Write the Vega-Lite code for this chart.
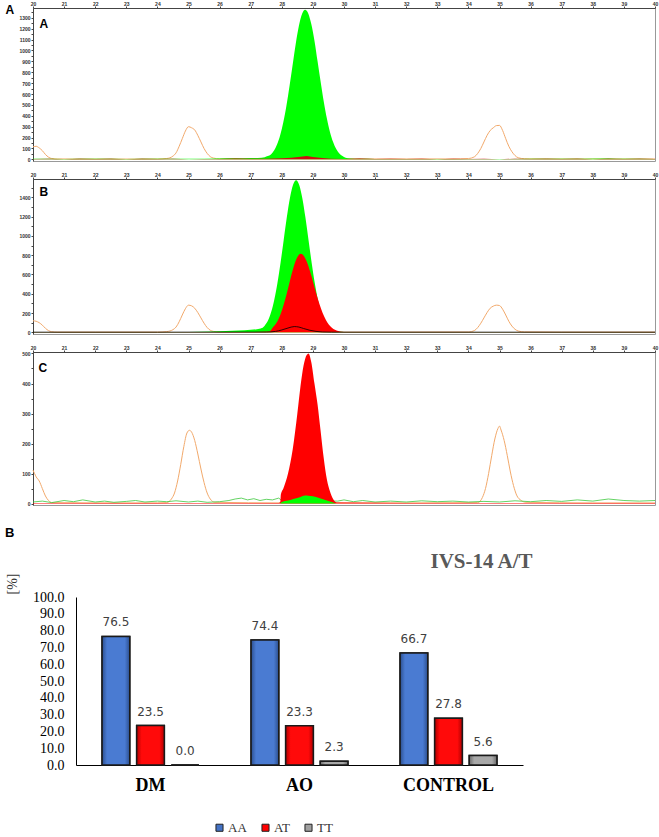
{
  "$schema": "https://vega.github.io/schema/vega-lite/v6.json",
  "padding": {"left": 4, "top": 0, "right": 0, "bottom": 0},
  "background": "white",
  "config": {"view": {"stroke": null}, "font": "Liberation Sans"},
  "datasets": {
    "A_orange": [
      {"t":20.0,"v":115},{"t":20.1,"v":120},{"t":20.2,"v":105},{"t":20.3,"v":80},{"t":20.4,"v":45},{"t":20.5,"v":20},{"t":20.6,"v":8},{"t":20.8,"v":4},{"t":21.5,"v":3},{"t":22.5,"v":3},{"t":23.5,"v":3},{"t":24.0,"v":4},{"t":24.3,"v":8},{"t":24.5,"v":30},{"t":24.6,"v":60},{"t":24.7,"v":120},{"t":24.8,"v":190},{"t":24.9,"v":260},{"t":25.0,"v":300},{"t":25.1,"v":290},{"t":25.2,"v":270},{"t":25.3,"v":220},{"t":25.4,"v":160},{"t":25.5,"v":100},{"t":25.6,"v":55},{"t":25.7,"v":25},{"t":25.8,"v":12},{"t":26.0,"v":5},{"t":27,"v":4},{"t":28,"v":4},{"t":30,"v":4},{"t":32,"v":4},{"t":33.5,"v":4},{"t":34.0,"v":8},{"t":34.2,"v":25},{"t":34.3,"v":55},{"t":34.4,"v":100},{"t":34.5,"v":160},{"t":34.6,"v":220},{"t":34.7,"v":265},{"t":34.8,"v":290},{"t":34.9,"v":310},{"t":35.0,"v":312},{"t":35.1,"v":265},{"t":35.2,"v":190},{"t":35.3,"v":120},{"t":35.4,"v":70},{"t":35.5,"v":35},{"t":35.6,"v":15},{"t":35.8,"v":6},{"t":36.5,"v":4},{"t":38,"v":4},{"t":40,"v":4}
    ],
    "A_green": [
      {"t":20,"v":5},{"t":21,"v":4},{"t":22,"v":5},{"t":23,"v":4},{"t":24,"v":5},{"t":25,"v":6},{"t":26,"v":8},{"t":26.5,"v":10},{"t":27,"v":12},{"t":27.35,"v":15},{"t":27.45,"v":20},{"t":27.55,"v":30},{"t":27.65,"v":44},{"t":27.75,"v":81},{"t":27.85,"v":139},{"t":27.95,"v":224},{"t":28.05,"v":343},{"t":28.15,"v":495},{"t":28.25,"v":676},{"t":28.35,"v":872},{"t":28.45,"v":1065},{"t":28.55,"v":1227},{"t":28.65,"v":1335},{"t":28.75,"v":1374},{"t":28.85,"v":1340},{"t":28.95,"v":1240},{"t":29.05,"v":1090},{"t":29.15,"v":900},{"t":29.25,"v":710},{"t":29.35,"v":530},{"t":29.45,"v":375},{"t":29.55,"v":250},{"t":29.65,"v":160},{"t":29.75,"v":95},{"t":29.85,"v":55},{"t":29.95,"v":30},{"t":30.05,"v":15},{"t":30.2,"v":8},{"t":30.5,"v":5},{"t":31,"v":4},{"t":33,"v":4},{"t":35,"v":4},{"t":37,"v":5},{"t":38.5,"v":8},{"t":39,"v":5},{"t":40,"v":4}
    ],
    "A_red": [
      {"t":20,"v":3},{"t":20.5,"v":6},{"t":21,"v":2},{"t":21.5,"v":5},{"t":22,"v":3},{"t":22.5,"v":6},{"t":23,"v":2},{"t":23.5,"v":5},{"t":24,"v":3},{"t":24.5,"v":5},{"t":25,"v":2},{"t":25.5,"v":4},{"t":26,"v":3},{"t":26.5,"v":8},{"t":27,"v":5},{"t":27.5,"v":6},{"t":28,"v":10},{"t":28.3,"v":15},{"t":28.6,"v":25},{"t":28.8,"v":30},{"t":29.0,"v":22},{"t":29.3,"v":12},{"t":29.6,"v":6},{"t":30,"v":4},{"t":30.5,"v":8},{"t":31,"v":3},{"t":31.5,"v":6},{"t":32,"v":3},{"t":32.5,"v":5},{"t":33,"v":2},{"t":33.5,"v":6},{"t":34,"v":3},{"t":34.5,"v":5},{"t":35,"v":2},{"t":35.5,"v":6},{"t":36,"v":3},{"t":36.5,"v":5},{"t":37,"v":3},{"t":37.5,"v":6},{"t":38,"v":2},{"t":38.5,"v":5},{"t":39,"v":3},{"t":39.5,"v":6},{"t":40,"v":3}
    ],
    "B_orange": [
      {"t":20.0,"v":120},{"t":20.1,"v":115},{"t":20.2,"v":100},{"t":20.3,"v":75},{"t":20.4,"v":42},{"t":20.5,"v":18},{"t":20.6,"v":7},{"t":20.8,"v":3},{"t":22,"v":3},{"t":24,"v":3},{"t":24.3,"v":8},{"t":24.5,"v":28},{"t":24.6,"v":55},{"t":24.7,"v":110},{"t":24.8,"v":180},{"t":24.9,"v":245},{"t":25.0,"v":282},{"t":25.1,"v":275},{"t":25.2,"v":250},{"t":25.3,"v":205},{"t":25.4,"v":150},{"t":25.5,"v":95},{"t":25.6,"v":50},{"t":25.7,"v":22},{"t":25.8,"v":10},{"t":26,"v":4},{"t":30,"v":3},{"t":34,"v":4},{"t":34.2,"v":20},{"t":34.3,"v":50},{"t":34.4,"v":95},{"t":34.5,"v":150},{"t":34.6,"v":205},{"t":34.7,"v":250},{"t":34.8,"v":272},{"t":34.9,"v":282},{"t":35.0,"v":278},{"t":35.1,"v":240},{"t":35.2,"v":180},{"t":35.3,"v":115},{"t":35.4,"v":65},{"t":35.5,"v":32},{"t":35.6,"v":14},{"t":35.8,"v":5},{"t":37,"v":3},{"t":40,"v":3}
    ],
    "B_green": [
      {"t":20,"v":3},{"t":21,"v":3},{"t":22,"v":4},{"t":23,"v":3},{"t":24,"v":4},{"t":25,"v":5},{"t":25.8,"v":8},{"t":26.2,"v":15},{"t":26.6,"v":20},{"t":27.0,"v":28},{"t":27.2,"v":33},{"t":27.36,"v":45},{"t":27.46,"v":75},{"t":27.56,"v":125},{"t":27.66,"v":213},{"t":27.76,"v":341},{"t":27.86,"v":512},{"t":27.96,"v":722},{"t":28.06,"v":956},{"t":28.16,"v":1190},{"t":28.26,"v":1391},{"t":28.36,"v":1527},{"t":28.46,"v":1576},{"t":28.56,"v":1527},{"t":28.66,"v":1391},{"t":28.76,"v":1190},{"t":28.86,"v":956},{"t":28.96,"v":722},{"t":29.06,"v":512},{"t":29.16,"v":341},{"t":29.26,"v":213},{"t":29.36,"v":125},{"t":29.46,"v":69},{"t":29.56,"v":36},{"t":29.66,"v":17},{"t":29.8,"v":8},{"t":30.0,"v":5},{"t":32,"v":4},{"t":35,"v":4},{"t":38,"v":5},{"t":40,"v":4}
    ],
    "B_red": [
      {"t":20,"v":3},{"t":21,"v":4},{"t":22,"v":3},{"t":23,"v":4},{"t":24,"v":3},{"t":25,"v":4},{"t":26,"v":3},{"t":27,"v":4},{"t":27.6,"v":8},{"t":27.71,"v":50},{"t":27.81,"v":89},{"t":27.91,"v":149},{"t":28.01,"v":234},{"t":28.11,"v":343},{"t":28.21,"v":468},{"t":28.31,"v":597},{"t":28.41,"v":710},{"t":28.51,"v":787},{"t":28.61,"v":815},{"t":28.71,"v":792},{"t":28.81,"v":728},{"t":28.91,"v":632},{"t":29.01,"v":518},{"t":29.11,"v":401},{"t":29.21,"v":294},{"t":29.31,"v":203},{"t":29.41,"v":133},{"t":29.51,"v":82},{"t":29.61,"v":48},{"t":29.71,"v":26},{"t":29.81,"v":14},{"t":29.91,"v":7},{"t":30.1,"v":4},{"t":32,"v":3},{"t":35,"v":4},{"t":38,"v":3},{"t":40,"v":3}
    ],
    "B_black": [
      {"t":20,"v":2},{"t":24,"v":2},{"t":27.5,"v":3},{"t":27.8,"v":10},{"t":28.0,"v":25},{"t":28.2,"v":45},{"t":28.4,"v":60},{"t":28.55,"v":55},{"t":28.7,"v":40},{"t":28.9,"v":22},{"t":29.1,"v":10},{"t":29.3,"v":4},{"t":29.6,"v":2},{"t":40,"v":2}
    ],
    "C_orange": [
      {"t":20.0,"v":111},{"t":20.05,"v":100},{"t":20.1,"v":89},{"t":20.2,"v":75},{"t":20.3,"v":50},{"t":20.4,"v":25},{"t":20.5,"v":10},{"t":20.6,"v":3},{"t":22,"v":2},{"t":24,"v":2},{"t":24.3,"v":3},{"t":24.45,"v":15},{"t":24.55,"v":35},{"t":24.65,"v":75},{"t":24.75,"v":130},{"t":24.85,"v":190},{"t":24.95,"v":235},{"t":25.03,"v":244},{"t":25.1,"v":238},{"t":25.2,"v":210},{"t":25.3,"v":165},{"t":25.4,"v":115},{"t":25.5,"v":70},{"t":25.6,"v":35},{"t":25.7,"v":15},{"t":25.85,"v":4},{"t":28,"v":2},{"t":32,"v":2},{"t":34.3,"v":3},{"t":34.45,"v":20},{"t":34.55,"v":50},{"t":34.65,"v":100},{"t":34.75,"v":160},{"t":34.85,"v":215},{"t":34.95,"v":250},{"t":35.0,"v":258},{"t":35.05,"v":245},{"t":35.15,"v":210},{"t":35.25,"v":160},{"t":35.35,"v":105},{"t":35.45,"v":60},{"t":35.55,"v":28},{"t":35.7,"v":10},{"t":35.85,"v":4},{"t":38,"v":2},{"t":40,"v":2}
    ],
    "C_red": [
      {"t":20,"v":2},{"t":24,"v":2},{"t":27.9,"v":2},{"t":27.95,"v":5},{"t":27.97,"v":30},{"t":28.05,"v":50},{"t":28.2,"v":100},{"t":28.35,"v":180},{"t":28.5,"v":300},{"t":28.6,"v":390},{"t":28.7,"v":460},{"t":28.8,"v":495},{"t":28.86,"v":500},{"t":28.95,"v":470},{"t":29.05,"v":400},{"t":29.15,"v":330},{"t":29.25,"v":240},{"t":29.35,"v":150},{"t":29.45,"v":80},{"t":29.55,"v":40},{"t":29.65,"v":15},{"t":29.77,"v":3},{"t":32,"v":2},{"t":40,"v":2}
    ],
    "C_greenline": [
      {"t":20,"v":5},{"t":20.3,"v":8},{"t":20.6,"v":3},{"t":21.0,"v":10},{"t":21.3,"v":6},{"t":21.6,"v":12},{"t":22.0,"v":5},{"t":22.3,"v":8},{"t":22.6,"v":4},{"t":23.0,"v":7},{"t":23.3,"v":10},{"t":23.6,"v":5},{"t":24.0,"v":8},{"t":24.3,"v":6},{"t":24.6,"v":9},{"t":25.0,"v":5},{"t":25.3,"v":8},{"t":25.6,"v":4},{"t":26.0,"v":6},{"t":26.3,"v":10},{"t":26.5,"v":15},{"t":26.7,"v":18},{"t":26.9,"v":12},{"t":27.1,"v":16},{"t":27.3,"v":10},{"t":27.5,"v":14},{"t":27.7,"v":12},{"t":27.9,"v":18},{"t":28.0,"v":10},{"t":29.8,"v":8},{"t":30.0,"v":12},{"t":30.3,"v":6},{"t":30.6,"v":10},{"t":31,"v":5},{"t":31.5,"v":8},{"t":32,"v":5},{"t":32.5,"v":9},{"t":33,"v":6},{"t":33.5,"v":8},{"t":34,"v":5},{"t":34.5,"v":7},{"t":35,"v":5},{"t":35.5,"v":9},{"t":36,"v":6},{"t":36.5,"v":10},{"t":37,"v":7},{"t":37.5,"v":12},{"t":38,"v":8},{"t":38.5,"v":15},{"t":39,"v":10},{"t":39.5,"v":8},{"t":40,"v":10}
    ],
    "C_greenarea": [
      {"t":27.95,"v":0},{"t":28.0,"v":5},{"t":28.2,"v":10},{"t":28.4,"v":16},{"t":28.6,"v":22},{"t":28.75,"v":27},{"t":28.85,"v":26},{"t":29.0,"v":24},{"t":29.2,"v":18},{"t":29.4,"v":12},{"t":29.6,"v":5},{"t":29.75,"v":0}
    ],
    "bars": [
      {"group":"DM","g":"AA","pct":76.5},{"group":"DM","g":"AT","pct":23.5},{"group":"DM","g":"TT","pct":0.0},
      {"group":"AO","g":"AA","pct":74.4},{"group":"AO","g":"AT","pct":23.3},{"group":"AO","g":"TT","pct":2.3},
      {"group":"CONTROL","g":"AA","pct":66.7},{"group":"CONTROL","g":"AT","pct":27.8},{"group":"CONTROL","g":"TT","pct":5.6}
    ]
  },
  "vconcat": [
    {
      "width": 622, "height": 153,
      "view": {"stroke": "#999"},
      "encoding": {
        "x": {"field": "t", "type": "quantitative", "scale": {"domain": [20, 40], "nice": false, "zero": false},
          "axis": {"orient": "top", "values": [20,20.5,21,21.5,22,22.5,23,23.5,24,24.5,25,25.5,26,26.5,27,27.5,28,28.5,29,29.5,30,30.5,31,31.5,32,32.5,33,33.5,34,34.5,35,35.5,36,36.5,37,37.5,38,38.5,39,39.5,40],
            "labelExpr": "datum.value % 1 === 0 ? datum.label : ''", "format": "d", "labelFontSize": 5, "labelPadding": 0, "tickSize": 2, "labelFlush": false, "labelOverlap": false, "domainColor": "#444", "tickColor": "#444", "labelColor": "#333", "labelFontWeight": "bold", "grid": false,
            "title": "A", "titleX": -28, "titleY": 5, "titleAlign": "left", "titleBaseline": "alphabetic", "titleFontSize": 12, "titleFontWeight": "bold", "titleColor": "#000", "titleFont": "Liberation Sans"}},
        "y": {"field": "v", "type": "quantitative", "scale": {"domain": [-15, 1390], "nice": false},
          "axis": {"values": [0,50,100,150,200,250,300,350,400,450,500,550,600,650,700,750,800,850,900,950,1000,1050,1100,1150,1200,1250,1300,1350],
            "labelExpr": "datum.value % 100 === 0 ? datum.label : ''", "format": "d", "labelFontSize": 5, "labelPadding": 1, "tickSize": 2, "labelOverlap": false, "labelFlush": false, "domainColor": "#444", "tickColor": "#444", "labelColor": "#333", "labelFontWeight": "bold", "grid": false,
            "title": "A", "titleAngle": 0, "titleX": 6, "titleY": 19, "titleAlign": "left", "titleBaseline": "alphabetic", "titleFontSize": 12, "titleFontWeight": "bold", "titleColor": "#000", "titleFont": "Liberation Sans"}}
      },
      "layer": [
        {"data": {"name": "A_orange"}, "mark": {"type": "line", "color": "#f2a96b", "strokeWidth": 1, "interpolate": "monotone"}},
        {"data": {"name": "A_green"}, "mark": {"type": "area", "color": "#00ff00", "interpolate": "monotone"}},
        {"data": {"name": "A_red"}, "mark": {"type": "area", "color": "#cc1010", "interpolate": "linear"}}
      ]
    },
    {
      "width": 622, "height": 155,
      "view": {"stroke": "#999"},
      "encoding": {
        "x": {"field": "t", "type": "quantitative", "scale": {"domain": [20, 40], "nice": false, "zero": false},
          "axis": {"orient": "top", "values": [20,20.5,21,21.5,22,22.5,23,23.5,24,24.5,25,25.5,26,26.5,27,27.5,28,28.5,29,29.5,30,30.5,31,31.5,32,32.5,33,33.5,34,34.5,35,35.5,36,36.5,37,37.5,38,38.5,39,39.5,40],
            "labelExpr": "datum.value % 1 === 0 ? datum.label : ''", "format": "d", "labelFontSize": 5, "labelPadding": 0, "tickSize": 2, "labelFlush": false, "labelOverlap": false, "domainColor": "#444", "tickColor": "#444", "labelColor": "#333", "labelFontWeight": "bold", "grid": false, "title": null}},
        "y": {"field": "v", "type": "quantitative", "scale": {"domain": [-17, 1590], "nice": false},
          "axis": {"values": [0,100,200,300,400,500,600,700,800,900,1000,1100,1200,1300,1400,1500],
            "labelExpr": "datum.value % 200 === 0 ? datum.label : ''", "format": "d", "labelFontSize": 5, "labelPadding": 1, "tickSize": 2, "labelOverlap": false, "labelFlush": false, "domainColor": "#444", "tickColor": "#444", "labelColor": "#333", "labelFontWeight": "bold", "grid": false,
            "title": "B", "titleAngle": 0, "titleX": 6, "titleY": 16, "titleAlign": "left", "titleBaseline": "alphabetic", "titleFontSize": 12, "titleFontWeight": "bold", "titleColor": "#000", "titleFont": "Liberation Sans"}}
      },
      "layer": [
        {"data": {"name": "B_orange"}, "mark": {"type": "line", "color": "#f2a96b", "strokeWidth": 1, "interpolate": "monotone"}},
        {"data": {"name": "B_green"}, "mark": {"type": "area", "color": "#00ff00", "interpolate": "monotone"}},
        {"data": {"name": "B_red"}, "mark": {"type": "area", "color": "#ff0000", "interpolate": "monotone"}},
        {"data": {"name": "B_black"}, "mark": {"type": "line", "color": "#000000", "strokeWidth": 0.8, "interpolate": "monotone"}}
      ]
    },
    {
      "width": 622, "height": 153,
      "view": {"stroke": "#999"},
      "encoding": {
        "x": {"field": "t", "type": "quantitative", "scale": {"domain": [20, 40], "nice": false, "zero": false},
          "axis": {"orient": "top", "values": [20,20.5,21,21.5,22,22.5,23,23.5,24,24.5,25,25.5,26,26.5,27,27.5,28,28.5,29,29.5,30,30.5,31,31.5,32,32.5,33,33.5,34,34.5,35,35.5,36,36.5,37,37.5,38,38.5,39,39.5,40],
            "labelExpr": "datum.value % 1 === 0 ? datum.label : ''", "format": "d", "labelFontSize": 5, "labelPadding": 0, "tickSize": 2, "labelFlush": false, "labelOverlap": false, "domainColor": "#444", "tickColor": "#444", "labelColor": "#333", "labelFontWeight": "bold", "grid": false, "title": null}},
        "y": {"field": "v", "type": "quantitative", "scale": {"domain": [-5, 505], "nice": false},
          "axis": {"values": [0,50,100,150,200,250,300,350,400,450,500],
            "labelExpr": "datum.value % 100 === 0 ? datum.label : ''", "format": "d", "labelFontSize": 5, "labelPadding": 1, "tickSize": 2, "labelOverlap": false, "labelFlush": false, "domainColor": "#444", "tickColor": "#444", "labelColor": "#333", "labelFontWeight": "bold", "grid": false,
            "title": "C", "titleAngle": 0, "titleX": 5, "titleY": 19, "titleAlign": "left", "titleBaseline": "alphabetic", "titleFontSize": 12, "titleFontWeight": "bold", "titleColor": "#000", "titleFont": "Liberation Sans"}}
      },
      "layer": [
        {"data": {"name": "C_orange"}, "mark": {"type": "line", "color": "#f2a96b", "strokeWidth": 1, "interpolate": "monotone"}},
        {"data": {"name": "C_greenline"}, "mark": {"type": "line", "color": "#3cc83c", "strokeWidth": 0.8, "interpolate": "linear"}},
        {"data": {"name": "C_red"}, "mark": {"type": "area", "color": "#ff0000", "interpolate": "monotone"}},
        {"data": {"name": "C_greenarea"}, "mark": {"type": "area", "color": "#00ff00", "interpolate": "monotone"}}
      ]
    },
    {
      "width": 490, "height": 168,
      "data": {"name": "bars"},
      "title": {"text": ["", "B"], "anchor": "start", "frame": "bounds", "font": "Liberation Sans", "fontSize": 13, "fontWeight": "bold", "color": "#000", "lineHeight": 12, "offset": 10},
      "encoding": {
        "x": {"field": "group", "type": "nominal", "sort": ["DM", "AO", "CONTROL"], "scale": {"range": [43, 490], "paddingInner": 0.35, "paddingOuter": 0.175},
          "axis": {"labelAngle": 0, "labelFont": "Liberation Serif", "labelFontSize": 18, "labelFontWeight": "bold", "labelColor": "#000", "ticks": false, "domainColor": "#000", "domainWidth": 1, "labelPadding": 11,
            "title": "IVS-14 A/T", "titleX": 448, "titleY": -198, "titleAlign": "center", "titleBaseline": "alphabetic", "titleAngle": 0, "titleFont": "Liberation Serif", "titleFontSize": 21, "titleFontWeight": "bold", "titleColor": "#595959"}},
        "xOffset": {"field": "g", "type": "nominal", "sort": ["AA", "AT", "TT"], "scale": {"paddingInner": 0.2, "paddingOuter": 0}},
        "y": {"field": "pct", "type": "quantitative", "scale": {"domain": [0, 100], "nice": false},
          "axis": {"offset": -43, "values": [0,10,20,30,40,50,60,70,80,90,100], "format": ".1f", "labelFont": "Liberation Serif", "labelFontSize": 14, "labelColor": "#000", "ticks": false, "grid": false, "domainColor": "#000", "labelPadding": 12,
            "title": "[%]", "titleFont": "Liberation Serif", "titleFontSize": 14, "titleFontWeight": "normal", "titleColor": "#333", "titleAngle": -90, "titleX": -64, "titleY": -24, "titleAlign": "right", "titleBaseline": "middle"}}
      },
      "layer": [
        {"mark": {"type": "bar", "stroke": "#1a1a1a", "strokeWidth": 1.5},
          "encoding": {"color": {"field": "g", "type": "nominal", "scale": {"domain": ["AA", "AT", "TT"], "range": ["#4472C4", "#FF0000", "#A0A0A0"]},
            "legend": {"orient": "none", "legendX": 180, "legendY": 224, "direction": "horizontal", "title": null, "symbolType": "square", "symbolSize": 50, "symbolStrokeColor": "#222", "symbolStrokeWidth": 1, "labelFont": "Liberation Serif", "labelFontSize": 13, "labelColor": "#333", "labelOffset": 2, "columnPadding": 12}}}},
        {"transform": [{"filter": "datum.g === 'AA'"}],
          "mark": {"type": "bar", "stroke": "#1a1a1a", "strokeWidth": 1.5, "color": {"gradient": "linear", "x1": 0, "y1": 0, "x2": 1, "y2": 0, "stops": [{"offset": 0, "color": "#2c4f8f"}, {"offset": 0.18, "color": "#4a7bd2"}, {"offset": 0.82, "color": "#4a7bd2"}, {"offset": 1, "color": "#2c4f8f"}]}}},
        {"transform": [{"filter": "datum.g === 'AT'"}],
          "mark": {"type": "bar", "stroke": "#1a1a1a", "strokeWidth": 1.5, "color": {"gradient": "linear", "x1": 0, "y1": 0, "x2": 1, "y2": 0, "stops": [{"offset": 0, "color": "#b00000"}, {"offset": 0.18, "color": "#ff0a0a"}, {"offset": 0.82, "color": "#ff0a0a"}, {"offset": 1, "color": "#b00000"}]}}},
        {"transform": [{"filter": "datum.g === 'TT'"}],
          "mark": {"type": "bar", "stroke": "#1a1a1a", "strokeWidth": 1.5, "color": {"gradient": "linear", "x1": 0, "y1": 0, "x2": 1, "y2": 0, "stops": [{"offset": 0, "color": "#6a6a6a"}, {"offset": 0.18, "color": "#a8a8a8"}, {"offset": 0.82, "color": "#a8a8a8"}, {"offset": 1, "color": "#6a6a6a"}]}}},
        {"mark": {"type": "text", "dy": -10, "font": "DejaVu Sans", "fontSize": 12, "color": "#404040", "baseline": "alphabetic"},
          "encoding": {"text": {"field": "pct", "type": "quantitative", "format": ".1f"}}}
      ]
    }
  ],
  "spacing": 8,
  "resolve": {"legend": {"color": "independent"}}
}
